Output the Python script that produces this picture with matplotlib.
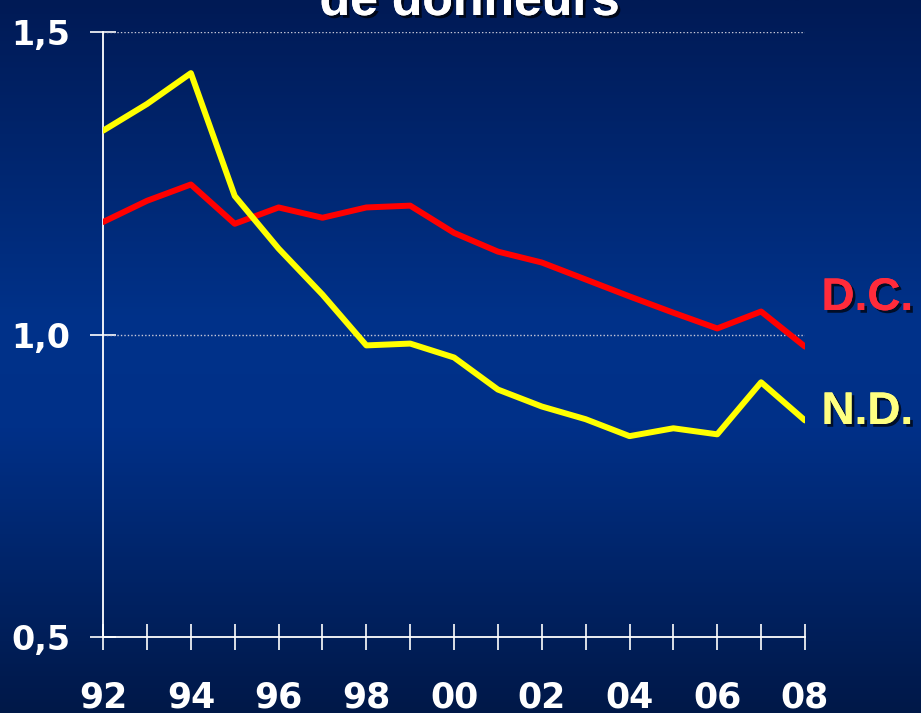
import numpy as np
import matplotlib
matplotlib.use("Agg")
import matplotlib.pyplot as plt
import matplotlib.patheffects as pe
from matplotlib.colors import LinearSegmentedColormap

# data
years = list(range(1992, 2009))
dc_values = [1.186, 1.221, 1.248, 1.183, 1.210, 1.193, 1.210, 1.213, 1.168,
             1.137, 1.119, 1.091, 1.063, 1.036, 1.010, 1.038, 0.980]
nd_values = [1.337, 1.381, 1.432, 1.229, 1.142, 1.066, 0.982, 0.985, 0.962,
             0.909, 0.881, 0.860, 0.832, 0.845, 0.835, 0.921, 0.858]
x_labels = [f"{y % 100:02d}" if y % 2 == 0 else "" for y in years]
y_ticks = [0.5, 1.0, 1.5]
y_labels = ["0,5", "1,0", "1,5"]
title = "de donneurs"

fig = plt.figure(figsize=(9.21, 7.13), dpi=100)

# background gradient
bg = fig.add_axes([0, 0, 1, 1], zorder=0)
cmap = LinearSegmentedColormap.from_list(
    "bg", [(0.0, "#001a55"), (0.45, "#00328a"), (0.6, "#003088"), (1.0, "#001848")])
grad = np.linspace(0, 1, 256).reshape(-1, 1)
bg.imshow(grad, aspect="auto", cmap=cmap, extent=[0, 1, 0, 1], origin="upper")
bg.axis("off")

ax = fig.add_axes([0.112, 0.1066, 0.762, 0.8485], zorder=1)
ax.patch.set_alpha(0)

ax.plot(years, dc_values, color="#ff0000", linewidth=4.3, solid_capstyle="round", zorder=3)
ax.plot(years, nd_values, color="#ffff00", linewidth=4.3, solid_capstyle="round", zorder=3)

for yv in [1.0, 1.5]:
    ax.plot([years[0], years[-1]], [yv, yv], color="#c8c8d8", linestyle=(0, (1, 1.5)),
            linewidth=1.0, zorder=2)

ax.set_xlim(years[0], years[-1])
ax.set_ylim(0.5, 1.5)
for s in ["top", "right"]:
    ax.spines[s].set_visible(False)
for s in ["left", "bottom"]:
    ax.spines[s].set_color("white")
    ax.spines[s].set_linewidth(1.3)

tick_font = dict(family=["Liberation Sans Narrow", "DejaVu Sans"], weight="bold")
ax.set_xticks(years)
ax.set_xticklabels(x_labels, fontsize=25, color="white", **tick_font)
ax.set_yticks(y_ticks)
ax.set_yticklabels(y_labels, fontsize=24, color="white", **tick_font)
ax.tick_params(axis="x", direction="inout", length=19, width=1.2, color="white", pad=22)
ax.tick_params(axis="y", direction="inout", length=19, width=1.2, color="white", pad=14)

shadow = [pe.withSimplePatchShadow(offset=(2, -2), shadow_rgbFace="black", alpha=0.7), pe.Normal()]
fig.text(0.892, 1 - 298 / 713, "D.C.", color="#ff2b3b", fontsize=33, weight="bold",
         family="Liberation Sans", va="center", ha="left", path_effects=shadow)
fig.text(0.892, 1 - 412 / 713, "N.D.", color="#ffff80", fontsize=33, weight="bold",
         family="Liberation Sans", va="center", ha="left", path_effects=shadow)

fig.text(0.51, 1 - 15 / 713, title, color="white", fontsize=36, weight="bold",
         family="Liberation Sans", ha="center", va="baseline", path_effects=shadow)

fig.savefig("out.png", dpi=100)
